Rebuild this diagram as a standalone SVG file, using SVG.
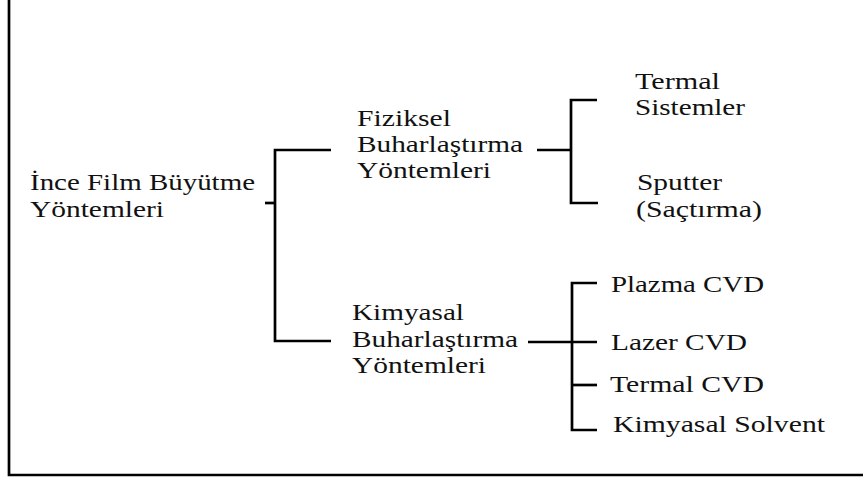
<svg xmlns="http://www.w3.org/2000/svg" width="863" height="479" viewBox="0 0 863 479">
<style>
text{font-family:"Liberation Serif","Times New Roman",serif;font-size:23.5px;fill:#111}
.c{fill:none;stroke:#000;stroke-width:2.7;stroke-linejoin:miter;stroke-linecap:butt}
.frame{fill:none;stroke:#000;stroke-width:2.7}
</style>
<rect width="863" height="479" fill="#fff"/>
<path class="frame" d="M9,0 V475 H863"/>
<g id="connectors">
<path class="c" d="M265,203 H275"/>
<path class="c" d="M331,150 H275 V341 H331"/>
<path class="c" d="M537,150 H571"/>
<path class="c" d="M597,100 H571 V203 H598"/>
<path class="c" d="M528,342 H597"/>
<path class="c" d="M597,283 H572 V430 H597"/>
<path class="c" d="M572,385 H597"/>
</g>
<g id="root">
<text x="30" y="190" textLength="225" lengthAdjust="spacingAndGlyphs">İnce Film Büyütme</text>
<text x="30" y="217" textLength="134" lengthAdjust="spacingAndGlyphs">Yöntemleri</text>
</g>
<g id="fiziksel">
<text x="357" y="126" textLength="94" lengthAdjust="spacingAndGlyphs">Fiziksel</text>
<text x="357" y="152" textLength="166" lengthAdjust="spacingAndGlyphs">Buharlaştırma</text>
<text x="357" y="178" textLength="134" lengthAdjust="spacingAndGlyphs">Yöntemleri</text>
</g>
<g id="kimyasal">
<text x="352" y="320" textLength="112" lengthAdjust="spacingAndGlyphs">Kimyasal</text>
<text x="352" y="347" textLength="166" lengthAdjust="spacingAndGlyphs">Buharlaştırma</text>
<text x="352" y="373" textLength="134" lengthAdjust="spacingAndGlyphs">Yöntemleri</text>
</g>
<g id="termal-sistemler">
<text x="635" y="89" textLength="85" lengthAdjust="spacingAndGlyphs">Termal</text>
<text x="635" y="115" textLength="110" lengthAdjust="spacingAndGlyphs">Sistemler</text>
</g>
<g id="sputter">
<text x="637" y="190" textLength="85" lengthAdjust="spacingAndGlyphs">Sputter</text>
<text x="636" y="217" textLength="126" lengthAdjust="spacingAndGlyphs">(Saçtırma)</text>
</g>
<g id="plazma-cvd"><text x="611" y="292" textLength="153" lengthAdjust="spacingAndGlyphs">Plazma CVD</text></g>
<g id="lazer-cvd"><text x="611" y="350" textLength="136" lengthAdjust="spacingAndGlyphs">Lazer CVD</text></g>
<g id="termal-cvd"><text x="610" y="392" textLength="154" lengthAdjust="spacingAndGlyphs">Termal CVD</text></g>
<g id="kimyasal-solvent"><text x="613" y="432" textLength="212" lengthAdjust="spacingAndGlyphs">Kimyasal Solvent</text></g>
</svg>
